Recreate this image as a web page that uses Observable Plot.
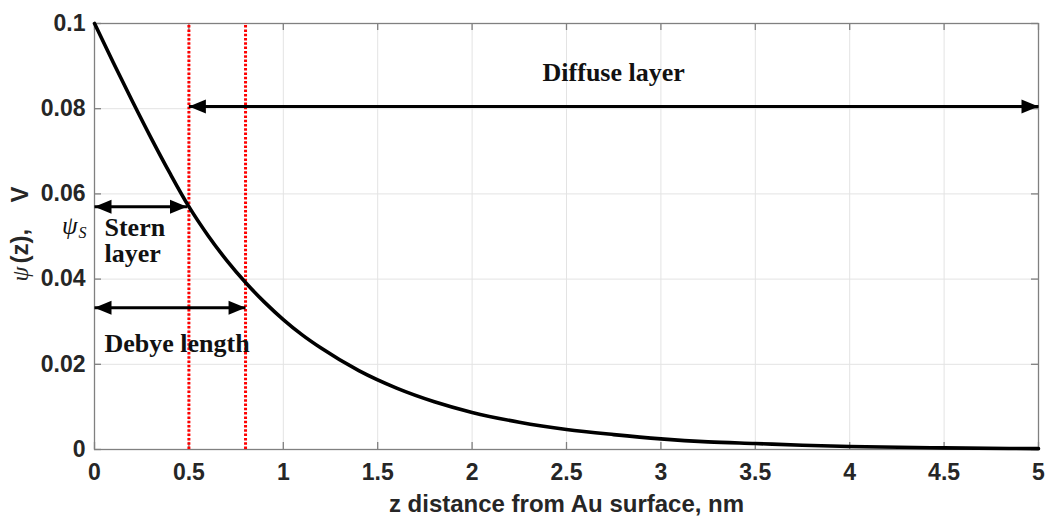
<!DOCTYPE html>
<html>
<head>
<meta charset="utf-8">
<script src="https://cdn.jsdelivr.net/npm/d3@7"></script>
<script src="https://cdn.jsdelivr.net/npm/@observablehq/plot@0.6"></script>
<style>
  html, body { margin: 0; padding: 0; background: #fff; }
  svg { display: block; }
</style>
</head>
<body>
<script>
// ---- data ----
const zValues   = [0, 0.1, 0.2, 0.3, 0.4, 0.5, 0.6, 0.7, 0.8, 0.9, 1.0, 1.1, 1.2, 1.4, 1.6, 1.8, 2.0, 2.25, 2.5, 2.75, 3.0, 3.25, 3.5, 3.75, 4.0, 4.5, 5.0];
const psiValues = [0.1, 0.0908, 0.0818, 0.0731, 0.0648, 0.057, 0.0503, 0.0444, 0.0392, 0.0346, 0.0305, 0.0269, 0.0238, 0.0185, 0.0144, 0.0112, 0.0087, 0.0064, 0.0047, 0.0035, 0.0025, 0.0018, 0.0014, 0.0010, 0.00072, 0.00038, 0.0002];

const xTicks = [0, 0.5, 1, 1.5, 2, 2.5, 3, 3.5, 4, 4.5, 5];
const xTickLabels = ["0", "0.5", "1", "1.5", "2", "2.5", "3", "3.5", "4", "4.5", "5"];
const yTicks = [0, 0.02, 0.04, 0.06, 0.08, 0.1];
const yTickLabels = ["0", "0.02", "0.04", "0.06", "0.08", "0.1"];

const dividerZ = [0.5, 0.8];                 // Stern plane, Debye length
const arrowFrom  = [0.5, 0, 0];
const arrowTo    = [5, 0.49, 0.8];
const arrowLevel = [0.0805, 0.057, 0.0333];

const centerLabel = ["Diffuse layer"];
const centerLabelZ = [2.75];
const centerLabelPsi = [0.0866];
const leftLabels = ["Stern", "layer", "Debye length"];
const leftLabelZ = [0.053, 0.053, 0.053];
const leftLabelPsi = [0.0502, 0.0439, 0.0228];

const xTitle = "z distance from Au surface, nm";

// ---- build tables ----
const curve = zValues.map((z, i) => ({z, psi: psiValues[i]}));
const arrows = arrowFrom.map((a, i) => ({a, b: arrowTo[i], y: arrowLevel[i]}));

const W = 1046, H = 517, mt = 23, mr = 8, mb = 68, ml = 94;
const frameW = W - ml - mr, frameH = H - mt - mb;

const headRight = {draw(ctx) { ctx.moveTo(0, 0); ctx.lineTo(-17, -7); ctx.lineTo(-17, 7); ctx.closePath(); }};
const headLeft  = {draw(ctx) { ctx.moveTo(0, 0); ctx.lineTo(17, -7); ctx.lineTo(17, 7); ctx.closePath(); }};

const sans = "'Liberation Sans', Arial, Helvetica, sans-serif";
const serif = "'Liberation Serif', 'Times New Roman', serif";
const axisGray = "#808080";
const textDark = "#262626";

const chart = Plot.plot({
  width: W, height: H,
  marginTop: mt, marginRight: mr, marginBottom: mb, marginLeft: ml,
  style: {background: "#fff", overflow: "visible"},
  x: {domain: [0, 5]},
  y: {domain: [0, 0.1]},
  marks: [
    Plot.gridX(xTicks, {stroke: "#e3e3e3", strokeOpacity: 1, strokeWidth: 1}),
    Plot.gridY(yTicks, {stroke: "#e3e3e3", strokeOpacity: 1, strokeWidth: 1}),
    Plot.frame({stroke: axisGray, strokeWidth: 1.3}),
    // inward tick marks (MATLAB style)
    Plot.tickX(xTicks, {x: d => d, insetTop: frameH - 7, stroke: axisGray, strokeWidth: 1.3}),
    Plot.tickX(xTicks, {x: d => d, insetBottom: frameH - 7, stroke: axisGray, strokeWidth: 1.3}),
    Plot.tickY(yTicks, {y: d => d, insetRight: frameW - 7, stroke: axisGray, strokeWidth: 1.3}),
    Plot.tickY(yTicks, {y: d => d, insetLeft: frameW - 7, stroke: axisGray, strokeWidth: 1.3}),
    Plot.axisX(xTicks, {tickSize: 0, tickPadding: 14, tickFormat: (d, i) => xTickLabels[i], label: null,
      fontSize: 23, fontWeight: "bold", fontFamily: sans, fill: textDark}),
    Plot.axisY(yTicks, {tickSize: 0, tickPadding: 9, tickFormat: (d, i) => yTickLabels[i], label: null,
      fontSize: 23, fontWeight: "bold", fontFamily: sans, fill: textDark}),
    // divider lines
    Plot.ruleX(dividerZ, {y1: 0, y2: 0.1, stroke: "#ff0000", strokeWidth: 3, strokeDasharray: "2.5,1.8"}),
    // potential curve
    Plot.line(curve, {x: "z", y: "psi", stroke: "#000", strokeWidth: 3.6, curve: "monotone-x"}),
    // double arrows
    Plot.link(arrows, {x1: "a", x2: "b", y1: "y", y2: "y", stroke: "#000", strokeWidth: 3}),
    Plot.dot(arrows, {x: "b", y: "y", symbol: headRight, fill: "#000", stroke: null}),
    Plot.dot(arrows, {x: "a", y: "y", symbol: headLeft, fill: "#000", stroke: null}),
    // annotations
    Plot.text(centerLabel, {x: (d, i) => centerLabelZ[i], y: (d, i) => centerLabelPsi[i], text: d => d,
      textAnchor: "middle", lineAnchor: "bottom", fontSize: 26, fontWeight: "bold", fontFamily: serif, fill: "#111"}),
    Plot.text(leftLabels, {x: (d, i) => leftLabelZ[i], y: (d, i) => leftLabelPsi[i], text: d => d,
      textAnchor: "start", lineAnchor: "bottom", fontSize: 26, fontWeight: "bold", fontFamily: serif, fill: "#111"}),
    // psi_S label in left margin
    Plot.text(["ψ"], {x: () => -0.09, y: () => 0.0505, text: d => d, textAnchor: "end", lineAnchor: "bottom",
      fontSize: 25, fontStyle: "italic", fontFamily: serif, fill: "#111"}),
    Plot.text(["S"], {x: () => -0.085, y: () => 0.0497, text: d => d, textAnchor: "start", lineAnchor: "bottom",
      fontSize: 16, fontStyle: "italic", fontFamily: serif, fill: "#111"}),
    // y-axis title: ψ(z), V
    Plot.text(["ψ"], {frameAnchor: "left", dx: -67, dy: 45, rotate: -90, textAnchor: "start", lineAnchor: "bottom",
      fontSize: 24, fontStyle: "italic", fontFamily: serif, fill: textDark}),
    Plot.text(["(z),"], {frameAnchor: "left", dx: -67, dy: 27, rotate: -90, textAnchor: "start", lineAnchor: "bottom",
      fontSize: 24, fontWeight: "bold", fontFamily: sans, fill: textDark}),
    Plot.text(["V"], {frameAnchor: "left", dx: -67, dy: -34, rotate: -90, textAnchor: "start", lineAnchor: "bottom",
      fontSize: 24, fontWeight: "bold", fontFamily: sans, fill: textDark}),
    // x-axis title
    Plot.text([xTitle], {frameAnchor: "bottom", dy: 62, textAnchor: "middle", lineAnchor: "bottom",
      fontSize: 24, fontWeight: "bold", fontFamily: sans, fill: textDark})
  ]
});
document.body.appendChild(chart);
</script>
</body>
</html>
